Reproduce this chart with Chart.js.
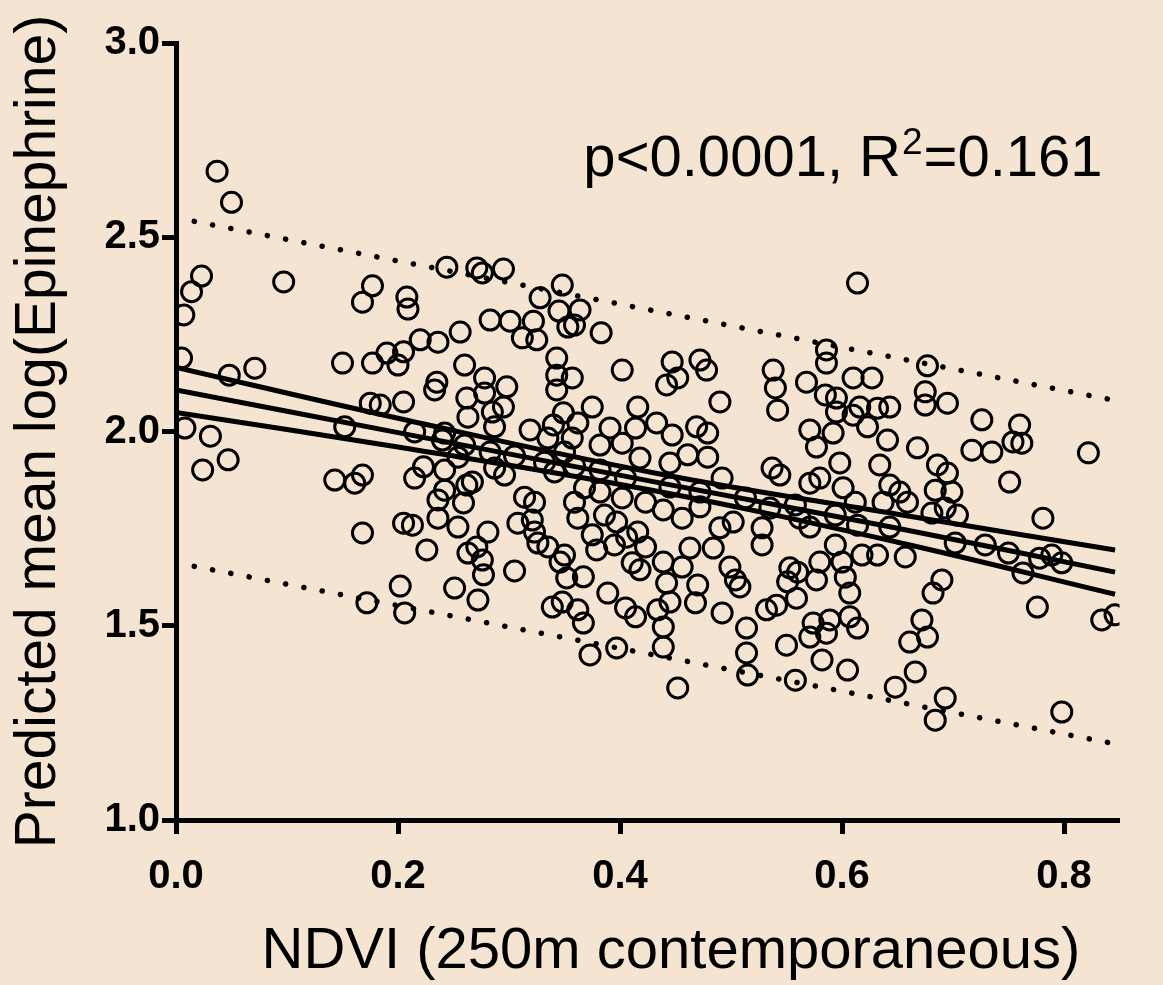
<!DOCTYPE html>
<html>
<head>
<meta charset="utf-8">
<script src="https://cdn.jsdelivr.net/npm/chart.js@4.4.1/dist/chart.umd.min.js"></script>
<style>
  html, body { margin: 0; padding: 0; background: #F4E4D1; }
  #wrap { width: 1163px; height: 985px; }
</style>
</head>
<body>
<div id="wrap"><canvas id="chart" width="1163" height="985"></canvas></div>
<script>
// NDVI (250 m, contemporaneous) for each participant
const ndvi = [
  0.037,0.050,0.023,0.014,0.007,0.097,0.177,0.168,0.208,0.209,
  0.244,0.271,0.276,0.295,0.348,0.328,0.345,0.364,0.359,0.353,0.383,0.283,0.301,0.322,0.312,0.325,0.256,0.220,0.236,0.614,0.586,
  0.005,0.048,0.071,0.150,0.177,0.190,0.200,0.205,0.175,0.184,0.205,0.152,0.008,0.031,0.047,0.024,0.143,0.161,0.168,0.168,0.205,
  0.260,0.343,0.343,0.357,0.343,0.402,0.235,0.233,0.278,0.278,0.298,0.262,0.263,0.285,0.295,0.287,0.375,0.416,0.349,0.362,
  0.319,0.340,0.335,0.357,0.391,0.414,0.382,0.402,0.418,0.215,0.242,0.254,0.287,0.296,0.223,0.215,0.242,0.341,0.267,0.262,
  0.242,0.236,0.259,0.314,0.323,0.368,0.382,0.402,0.359,0.362,0.386,0.397,0.236,0.254,0.213,0.281,0.308,0.321,0.323,0.423,
  0.416,0.406,0.375,0.350,0.240,0.260,0.283,0.305,0.332,0.359,0.382,0.405,
  0.447,0.472,0.478,0.452,0.442,0.490,0.538,0.540,0.542,0.568,0.586,0.610,0.627,0.585,0.595,0.595,0.616,0.610,0.632,0.643,
  0.623,0.571,0.592,0.577,0.641,0.433,0.447,0.469,0.479,0.461,0.479,0.445,0.492,0.537,0.544,0.598,0.634,0.571,0.580,0.601,
  0.643,0.439,0.456,0.472,0.490,0.502,0.528,0.562,0.571,0.612,0.637,0.614,0.643,0.445,0.472,0.513,0.535,0.558,0.594,
  0.677,0.675,0.675,0.695,0.726,0.760,0.754,0.762,0.668,0.717,0.735,0.822,0.686,0.695,0.751,0.684,0.699,0.652,0.659,0.681,
  0.704,0.693,0.781,
  0.657,0.702,0.729,0.750,0.763,0.778,0.789,0.798,0.690,0.682,0.776,0.672,0.677,0.661,0.834,0.846,0.666,0.648,0.693,0.684,0.798,
  0.463,0.484,0.528,0.594,0.618,0.632,0.439,0.456,0.470,0.442,0.499,0.504,0.508,0.553,0.560,0.580,0.577,0.600,0.603,0.607,
  0.551,0.559,0.445,0.434,0.468,0.492,0.532,0.541,0.574,0.589,0.571,0.586,0.607,0.614,0.439,0.439,0.514,0.550,0.514,0.582,
  0.605,0.515,0.558,0.452,
  0.226,0.263,0.271,0.276,0.277,0.305,0.326,0.335,0.346,0.350,0.352,0.367,0.379,0.395,0.411,0.418,0.423,0.251,0.272,0.339,
  0.348,0.362,0.367,0.389,0.405,0.414,0.373,0.397,0.172,0.202,0.206
];

// Predicted mean log(Epinephrine), same order as ndvi
const logEpinephrine = [
  2.67,2.59,2.40,2.36,2.30,2.385,2.375,2.333,2.346,2.315,
  2.423,2.421,2.408,2.418,2.377,2.344,2.31,2.313,2.274,2.269,2.254,2.287,2.284,2.284,2.241,2.236,2.256,2.236,2.23,2.382,2.21,
  2.189,2.145,2.163,2.176,2.176,2.202,2.171,2.205,2.073,2.068,2.076,2.012,2.009,1.988,1.927,1.901,1.875,1.867,1.888,1.739,1.764,
  2.171,2.189,2.145,2.138,2.107,2.158,2.127,2.107,2.138,2.099,2.115,2.086,2.037,2.05,2.063,2.012,2.063,2.063,2.048,2.022,
  2.004,2.017,1.983,1.983,2.009,2.009,1.965,1.97,1.932,1.999,1.996,1.934,1.906,1.888,1.909,1.88,1.901,1.896,1.87,1.862,
  1.849,1.824,1.816,1.831,1.818,1.855,1.844,1.829,1.818,1.777,1.785,1.767,1.777,1.754,1.759,1.741,1.764,1.772,1.741,1.818,
  1.741,1.728,1.734,1.947,1.978,1.965,1.947,1.937,1.921,1.911,1.901,1.88,
  2.179,2.184,2.158,2.138,2.12,2.076,2.158,2.112,2.055,2.127,2.176,2.138,2.138,2.094,2.086,2.05,2.063,2.042,2.06,2.063,
  2.012,2.004,1.996,1.96,1.978,2.022,1.991,2.012,1.996,1.94,1.934,1.919,1.88,1.906,1.888,1.919,1.914,1.867,1.88,1.855,
  1.862,1.798,1.777,1.806,1.752,1.767,1.752,1.777,1.754,1.818,1.818,1.759,1.754,1.857,1.844,1.829,1.803,1.811,1.785,
  2.169,2.102,2.068,2.073,2.03,2.017,1.973,1.97,1.958,1.952,1.947,1.945,1.914,1.893,1.87,1.849,1.844,1.844,1.818,1.79,
  1.785,1.803,1.777,
  1.677,1.713,1.708,1.687,1.636,1.674,1.682,1.662,1.618,1.584,1.548,1.515,1.471,1.458,1.515,1.528,1.381,1.342,1.314,1.257,1.278,
  1.70,1.70,1.708,1.708,1.682,1.682,1.664,1.651,1.605,1.61,1.651,1.618,1.60,1.649,1.638,1.664,1.618,1.664,1.625,1.584,
  1.613,1.571,1.561,1.541,1.559,1.533,1.541,1.553,1.507,1.515,1.471,1.481,1.523,1.494,1.497,1.445,1.494,1.45,1.43,1.412,
  1.386,1.373,1.36,1.34,
  1.695,1.687,1.703,1.669,1.631,1.641,1.713,1.703,1.664,1.682,1.623,1.626,1.695,1.708,1.662,1.644,1.703,1.597,1.566,1.548,
  1.561,1.541,1.507,1.584,1.546,1.523,1.425,1.443,1.559,1.602,1.533
];

// Linear fit with its 95% confidence band
const fitX     = [0, 0.2, 0.43, 0.65, 0.846];
const fitMean  = [2.107, 1.997, 1.871, 1.751, 1.638];
const fitUpper = [2.165, 2.034, 1.894, 1.787, 1.695];
const fitLower = [2.049, 1.960, 1.848, 1.715, 1.581];

// 95% prediction band
const bandX     = [0, 0.846];
const predUpper = [2.55, 2.08];
const predLower = [1.662, 1.196];

const xTicks = [0.0, 0.2, 0.4, 0.6, 0.8];
const yTicks = [1.0, 1.5, 2.0, 2.5, 3.0];

const xTitle = 'NDVI (250m contemporaneous)';
const yTitle = 'Predicted mean log(Epinephrine)';

const pts = (xs, ys) => xs.map((x, i) => ({ x: x, y: ys[i] }));

const FONT = '"Liberation Sans", Arial, Helvetica, sans-serif';

const lineDs = (xs, ys) => ({
  data: pts(xs, ys), showLine: true, borderColor: '#000', borderWidth: 5,
  pointRadius: 0, pointHoverRadius: 0, fill: false, tension: 0.4, order: 0
});
const dotDs = (xs, ys) => ({
  data: pts(xs, ys), showLine: true, borderColor: '#000', borderWidth: 5.5,
  borderDash: [0.1, 18.5], borderCapStyle: 'round',
  pointRadius: 0, pointHoverRadius: 0, fill: false, order: 0
});

// Statistics text and the x-axis caption
const annotations = {
  id: 'annotations',
  afterDraw(chart) {
    const { ctx, scales } = chart;
    ctx.save();
    ctx.fillStyle = '#000';
    ctx.textBaseline = 'alphabetic';

    const x0 = scales.x.getPixelForValue(0.367);
    const y0 = scales.y.getPixelForValue(2.658);
    ctx.textAlign = 'left';
    ctx.font = '58px ' + FONT;
    const a = 'p<0.0001, R';
    ctx.fillText(a, x0, y0);
    let x = x0 + ctx.measureText(a).width;
    ctx.font = '37px ' + FONT;
    ctx.fillText('2', x + 1, y0 - 22);
    x += ctx.measureText('2').width + 2;
    ctx.font = '58px ' + FONT;
    ctx.fillText('=0.161', x, y0);

    ctx.textAlign = 'center';
    ctx.font = '58px ' + FONT;
    ctx.fillText(xTitle, 671, 968);
    ctx.restore();
  }
};

new Chart(document.getElementById('chart'), {
  type: 'scatter',
  data: {
    datasets: [
      dotDs(bandX, predUpper),
      dotDs(bandX, predLower),
      lineDs(fitX, fitUpper),
      lineDs(fitX, fitMean),
      lineDs(fitX, fitLower),
      {
        data: pts(ndvi, logEpinephrine),
        pointRadius: 10, pointHoverRadius: 10,
        pointBorderWidth: 3, pointBorderColor: '#000',
        pointBackgroundColor: 'rgba(0,0,0,0)', order: 1
      }
    ]
  },
  options: {
    responsive: false,
    animation: false,
    devicePixelRatio: 1,
    layout: { padding: { top: 43, right: 43.5, left: 0, bottom: 0 } },
    plugins: { legend: { display: false }, tooltip: { enabled: false } },
    scales: {
      x: {
        type: 'linear', min: 0, max: 0.85,
        afterFit(s) { s.height = 165; },
        afterBuildTicks(s) { s.ticks = xTicks.map(v => ({ value: v })); },
        border: { display: true, width: 5, color: '#000' },
        grid: { display: true, drawOnChartArea: false, drawTicks: true,
                tickLength: 14, tickWidth: 5, tickColor: '#000' },
        ticks: { color: '#000', padding: 19, maxRotation: 0,
                 font: { family: FONT, size: 40, weight: 'bold' },
                 callback: v => Number(v).toFixed(1) },
        title: { display: false }
      },
      y: {
        type: 'linear', min: 1, max: 3,
        afterFit(s) { s.width = 176; },
        afterBuildTicks(s) { s.ticks = yTicks.map(v => ({ value: v })); },
        border: { display: true, width: 5, color: '#000' },
        grid: { display: true, drawOnChartArea: false, drawTicks: true,
                tickLength: 14, tickWidth: 5, tickColor: '#000' },
        ticks: { color: '#000', padding: 2,
                 font: { family: FONT, size: 40, weight: 'bold' },
                 callback: v => Number(v).toFixed(1) },
        title: { display: true, text: yTitle, color: '#000',
                 font: { family: FONT, size: 57 }, padding: { top: 5, bottom: 0 } }
      }
    }
  },
  plugins: [annotations]
});
</script>
</body>
</html>
